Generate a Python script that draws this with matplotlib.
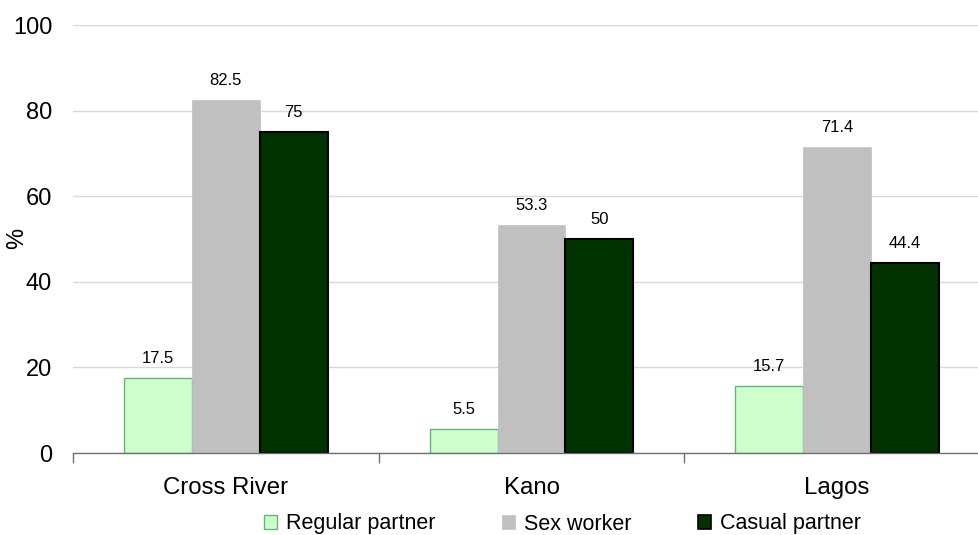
import matplotlib
matplotlib.use("Agg")
import matplotlib.pyplot as plt
from matplotlib.patches import Patch
import numpy as np

plt.rcParams['font.family'] = ['Liberation Sans', 'DejaVu Sans']

categories = ["Cross River", "Kano", "Lagos"]
series_names = ["Regular partner", "Sex worker", "Casual partner"]
regular = [17.5, 5.5, 15.7]
sex_worker = [82.5, 53.3, 71.4]
casual = [75, 50, 44.4]
yticks = [0, 20, 40, 60, 80, 100]

series = [regular, sex_worker, casual]
faces = ["#ccffcc", "#c0c0c0", "#003300"]
edges = ["#66b27a", "#c0c0c0", "#000000"]
lws = [1.0, 0.5, 1.5]

fig = plt.figure(figsize=(9.79, 5.35), dpi=100)
ax = fig.add_axes([73/979, (535-453)/535, 917/979, 428/535])

x = np.arange(len(categories))
w = 0.222
for i, (vals, fc, ec, lw) in enumerate(zip(series, faces, edges, lws)):
    pos = x + (i - 1) * w
    bars = ax.bar(pos, vals, width=w, color=fc, edgecolor=ec, linewidth=lw,
                  label=series_names[i], zorder=3)
    for b, v in zip(bars, vals):
        ax.annotate(f"{v:g}", (b.get_x() + b.get_width()/2, v),
                    xytext=(0, 10.8), textcoords="offset points",
                    ha="center", va="baseline", fontsize=12, zorder=4)

ax.set_xlim(-0.5, len(categories) - 0.5)
ax.set_ylim(0, 100)
ax.set_yticks(yticks)
ax.yaxis.grid(True, color="#d9d9d9", linewidth=1.0, zorder=0)
ax.set_axisbelow(True)
for s in ["left", "right", "top"]:
    ax.spines[s].set_visible(False)
ax.spines["bottom"].set_color("#707070")
ax.spines["bottom"].set_linewidth(1.0)
ax.spines["bottom"].set_zorder(5)
ax.tick_params(axis="y", length=0, labelsize=17, pad=15)
ax.set_xticks(x)
ax.set_xticklabels(categories)
ax.set_xticks(np.arange(-0.5, len(categories), 1.0), minor=True)
ax.tick_params(axis="x", which="major", length=0, labelsize=17.3, pad=17)
ax.tick_params(axis="x", which="minor", length=7, color="#707070", width=1.0)

fig.text(17/979, 1 - 238/535, "%", rotation=90, fontsize=17, ha="center", va="center")

handles = [Patch(facecolor=fc, edgecolor=ec, linewidth=lw) for fc, ec, lw in zip(faces, edges, [1.0, 0.5, 1.2])]
fig.legend(handles, series_names, loc="center", bbox_to_anchor=(0.5746, 1 - 524/535),
           ncol=3, frameon=False, fontsize=15.5, handlelength=0.6, handleheight=0.6,
           handletextpad=0.42, columnspacing=3.1, borderpad=0, borderaxespad=0)

fig.savefig("out.png", dpi=100)
